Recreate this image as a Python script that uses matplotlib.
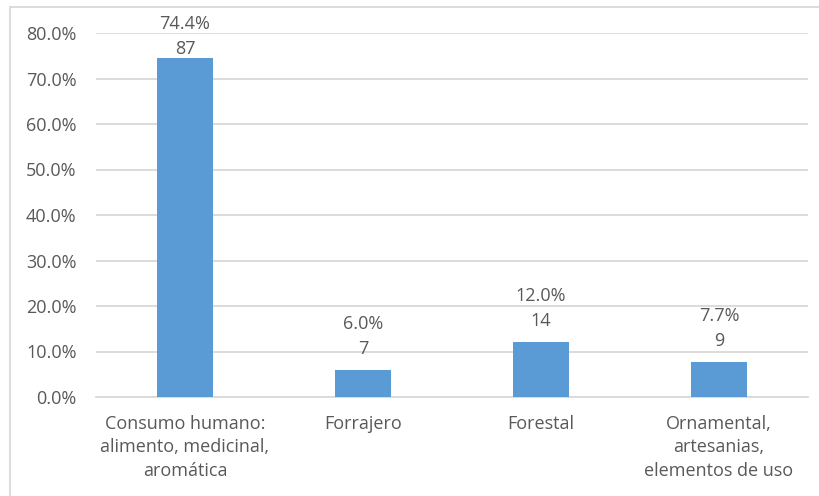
import matplotlib
matplotlib.use("Agg")
import matplotlib.pyplot as plt
from matplotlib.patches import Rectangle
from matplotlib.ticker import FuncFormatter

categories = ["Consumo humano:\nalimento, medicinal,\naromática",
              "Forrajero",
              "Forestal",
              "Ornamental,\nartesanias,\nelementos de uso"]
percentages = [74.4, 6.0, 12.0, 7.7]
counts = [87, 7, 14, 9]
yticks = [0, 10, 20, 30, 40, 50, 60, 70, 80]

bar_color = "#5B9BD5"
text_color = "#595959"
grid_color = "#D9D9D9"
fs = 13

plt.rcParams["font.family"] = ["Open Sans", "DejaVu Sans"]

W, H = 820, 496
fig = plt.figure(figsize=(W / 100, H / 100), dpi=100)
ax = fig.add_axes([96 / W, 1 - 397 / H, (808 - 96) / W, (397 - 33) / H])

x = list(range(len(categories)))
ax.bar(x, percentages, width=0.315, color=bar_color, zorder=3)

ax.set_xlim(-0.5, len(categories) - 0.5)
ax.set_ylim(0, 80)
ax.set_yticks(yticks)
ax.yaxis.set_major_formatter(FuncFormatter(lambda v, _: f"{v:.1f}%"))
ax.grid(axis="y", color=grid_color, linewidth=1.3, zorder=0)
ax.set_axisbelow(True)

for s in ["top", "right", "left"]:
    ax.spines[s].set_visible(False)
ax.spines["bottom"].set_color(grid_color)
ax.spines["bottom"].set_linewidth(1.3)

ax.set_xticks(x)
ax.set_xticklabels(categories, linespacing=1.38)
ax.tick_params(axis="x", length=0, pad=13, labelsize=fs, colors=text_color)
ax.tick_params(axis="y", length=0, pad=14, labelsize=fs, colors=text_color)

# Two-line data labels above each bar, pushed down if they would leave the figure
count_off, line_gap, top_limit = 21, 25, H - 24
for xi, p, c in zip(x, percentages, counts):
    bar_top = ax.transData.transform((xi, p))[1]
    shift = max(0, bar_top + count_off + line_gap - top_limit)
    ax.annotate(f"{c}", (xi, p), xytext=(0, count_off - shift),
                textcoords="offset pixels", ha="center", va="center",
                fontsize=fs, color=text_color)
    ax.annotate(f"{p:.1f}%", (xi, p), xytext=(0, count_off + line_gap - shift),
                textcoords="offset pixels", ha="center", va="center",
                fontsize=fs, color=text_color)

fig.patches.append(Rectangle((10.5 / W, -0.05), 1.1, 1 - 7.5 / H + 0.05,
                             transform=fig.transFigure, fill=False,
                             edgecolor="#D9D9D9", linewidth=1.3))

fig.savefig("out.png", dpi=100)
